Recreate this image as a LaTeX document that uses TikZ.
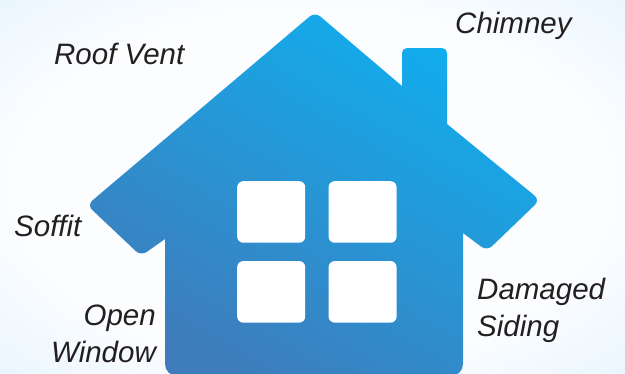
\documentclass[tikz,border=0pt]{standalone}
\usepackage{fontspec}
\setmainfont{Liberation Sans}
\usetikzlibrary{positioning}
\definecolor{hsdeep}{HTML}{3F7CBB}
\definecolor{hssky}{HTML}{10AEEE}
\definecolor{bgpale}{HTML}{FBFDFF}
\definecolor{bgedge}{HTML}{E6F4FD}
\definecolor{lbink}{HTML}{231F20}
\pgfdeclareradialshading{bgglow}{\pgfpoint{0bp}{0bp}}{color(0bp)=(bgpale); color(24bp)=(bgpale); color(38bp)=(bgedge); color(50bp)=(bgedge)}
\begin{document}
\begin{tikzpicture}[x=1pt, y=-1pt,
          pane/.style={fill=white, rounded corners=6pt, minimum width=68pt, minimum height=61.5pt, inner sep=0pt},
          lb/.style={text=lbink, font=\fontsize{29.5}{37}\selectfont\itshape, align=left, inner sep=0pt}]
        \useasboundingbox (0,0) rectangle (625,373);
        \shade[shading=bgglow] (0,0) rectangle (625,373);
        \shade[top color=hssky, bottom color=hsdeep, shading angle=-30, rounded corners=7pt]
          (315,12) [sharp corners] -- (402,86) [rounded corners=5pt] -- (402,48) -- (447,48) [sharp corners] -- (447,124)
          [rounded corners=7pt] -- (540,200) -- (487,251) [sharp corners] -- (463,233)
          [rounded corners=12pt] -- (463,376) -- (165,376) [sharp corners] -- (165,239)
          [rounded corners=7pt] -- (141,256) -- (87,205) -- cycle;
        \node[pane, anchor=north west] (w1) at (237,181) {};
        \node[pane, right=23pt of w1] (w2) {};
        \node[pane, below=18pt of w1] (w3) {};
        \node[pane, below=18pt of w2] (w4) {};
        \node[lb, anchor=base west] (roof) at (54,64) {Roof Vent};
        \node[lb, anchor=base west] (chim) at (455,33) {Chimney};
        \node[lb, anchor=base west] (soff) at (14,236) {Soffit};
        \node[lb, anchor=base east, align=right] (open) at (156,362) {Open\\Window};
        \node[lb, anchor=base west] (dmg) at (477,336) {Damaged\\Siding};
      \end{tikzpicture}
\end{document}
